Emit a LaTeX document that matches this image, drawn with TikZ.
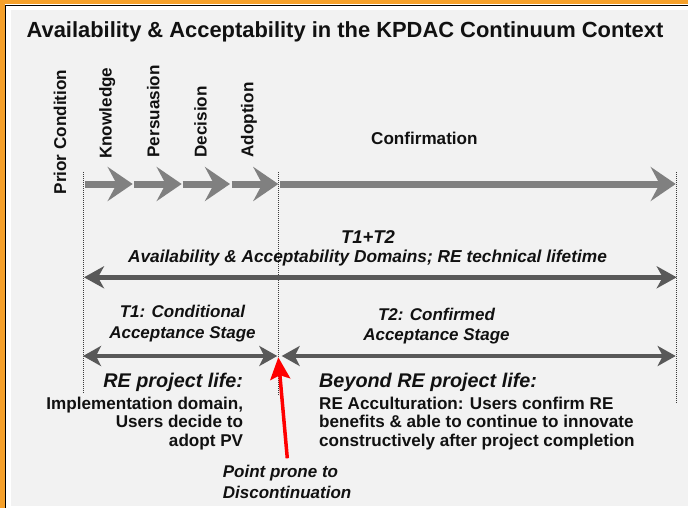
\documentclass[tikz,border=0pt]{standalone}
\usepackage{fontspec}
\setmainfont{Liberation Sans}
\usetikzlibrary{arrows.meta}
\definecolor{bggray}{HTML}{F2F2F2}
\definecolor{orangeband}{HTML}{F5A02A}
\definecolor{chev}{HTML}{808080}
\definecolor{darrow}{HTML}{595959}
\definecolor{dotc}{HTML}{3A3A3A}
\definecolor{txt}{HTML}{111111}
\begin{document}
\begin{tikzpicture}[x=1pt,y=-1pt,
  lbl/.style={font=\bfseries\fontsize{17.1}{20}\selectfont, text=txt, inner sep=0pt},
  ilbl/.style={font=\bfseries\itshape\fontsize{17}{20}\selectfont, text=txt, inner sep=0pt},
  hlbl/.style={font=\bfseries\itshape\fontsize{19.8}{22}\selectfont, text=txt, inner sep=0pt},
  ttl/.style={font=\bfseries\fontsize{21.9}{24}\selectfont, text=txt, inner sep=0pt},
  chevron/.style={draw=chev, line width=7pt, -{Stealth[length=25pt,width=34pt,inset=9pt]}},
  dblarrow/.style={draw=darrow, line width=4.5pt, {Stealth[length=18pt,width=20pt,inset=5pt]}-{Stealth[length=18pt,width=20pt,inset=5pt]}},
  dotline/.style={draw=dotc, line width=1pt, dash pattern=on 1pt off 1pt},
  redarrow/.style={draw=red, line width=3.5pt, -{Stealth[length=22pt,width=20pt,inset=4pt]}}
]
\useasboundingbox (0,0) rectangle (688,508);
% frame
\fill[white] (0,0) rectangle (688,508);
\fill[orangeband] (0,0) rectangle (688,4.5);
\fill[orangeband] (0,0) rectangle (4.5,508);
\draw[black, line width=1.5pt] (5.5,508) -- (5.5,5.5) -- (688,5.5);
\fill[bggray] (11,10) rectangle (688,506);

% title
\node[ttl, anchor=base] (title) at (345,37.7) {Availability \& Acceptability in the KPDAC Continuum Context};

% vertical stage labels
\node[lbl, rotate=90, anchor=base west] (prior) at (66,194.5) {Prior Condition};
\node[lbl, rotate=90, anchor=base west] (know) at (111.7,159) {Knowledge};
\node[lbl, rotate=90, anchor=base west] (pers) at (159.3,157.7) {Persuasion};
\node[lbl, rotate=90, anchor=base west] (deci) at (206.7,157.7) {Decision};
\node[lbl, rotate=90, anchor=base west] (adop) at (253.3,157.7) {Adoption};
\node[lbl, anchor=base west] (conf) at (371,145) {Confirmation};

% dotted guides
\coordinate (dLt) at (83.3,172);
\coordinate (dLb) at (83.3,393);
\coordinate (dMt) at (278.3,172);
\coordinate (dMb) at (278.3,395);
\coordinate (dRt) at (676.3,172);
\coordinate (dRb) at (676.3,403);
\draw[dotline] (dLt) -- (dLb);
\draw[dotline] (dMt) -- (dMb);
\draw[dotline] (dRt) -- (dRb);

% chevron arrows
\coordinate (s1) at (85,184);   \coordinate (e1) at (132.7,184);
\coordinate (s2) at (134,184);  \coordinate (e2) at (181.7,184);
\coordinate (s3) at (182.7,184);\coordinate (e3) at (230,184);
\coordinate (s4) at (231.7,184);\coordinate (e4) at (278.3,184);
\coordinate (s5) at (280,184);  \coordinate (e5) at (675.7,184);
\draw[chevron] (s1) -- (e1);
\draw[chevron] (s2) -- (e2);
\draw[chevron] (s3) -- (e3);
\draw[chevron] (s4) -- (e4);
\draw[chevron] (s5) -- (e5);

% T1+T2 domain
\node[font=\bfseries\itshape\fontsize{18.5}{20}\selectfont, text=txt, inner sep=0pt, anchor=base] (t12) at (368,243.3) {T1+T2};
\node[ilbl, font=\bfseries\itshape\fontsize{17.3}{20}\selectfont, anchor=base] (dom) at (367.5,262.7) {Availability \& Acceptability Domains; RE technical lifetime};
\coordinate (aL) at (84,277.3);
\coordinate (aR) at (676.7,277.3);
\draw[dblarrow, line width=5pt, {Stealth[length=20pt,width=22pt,inset=6pt]}-{Stealth[length=20pt,width=22pt,inset=6pt]}] (aL) -- (aR);

% T1 / T2 stages
\node[ilbl, anchor=base] (t1a) at (182.5,317.3) {T1: Conditional};
\node[ilbl, anchor=base] (t1b) at (182.5,338.3) {Acceptance Stage};
\node[ilbl, anchor=base] (t2a) at (436.5,320) {T2: Confirmed};
\node[ilbl, anchor=base] (t2b) at (436.5,340.7) {Acceptance Stage};
\coordinate (b1L) at (83,356);
\coordinate (b1R) at (277.3,356);
\coordinate (b2L) at (281.7,356);
\coordinate (b2R) at (675.7,356);
\draw[dblarrow] (b1L) -- (b1R);
\draw[dblarrow] (b2L) -- (b2R);

% RE project life
\node[hlbl, anchor=base east] (rel1) at (243.3,387.3) {RE project life:};
\node[lbl, anchor=base east] (rel2) at (243.3,409.3) {Implementation domain,};
\node[lbl, anchor=base east] (rel3) at (243.3,427.7) {Users decide to};
\node[lbl, anchor=base east] (rel4) at (243.3,446.7) {adopt PV};

% Beyond RE project life
\node[hlbl, anchor=base west] (bey1) at (319,387.3) {Beyond RE project life:};
\node[lbl, anchor=base west] (bey2) at (319,409.3) {RE Acculturation: Users confirm RE};
\node[lbl, anchor=base west] (bey3) at (319,427.7) {benefits \& able to continue to innovate};
\node[lbl, anchor=base west] (bey4) at (319,446.7) {constructively after project completion};

% discontinuation point
\coordinate (rtail) at (287.3,458.3);
\coordinate (rtip) at (278.3,357.3);
\draw[redarrow] (rtail) -- (rtip);
\node[ilbl, anchor=base west] (pp1) at (222.7,477.3) {Point prone to};
\node[ilbl, anchor=base west] (pp2) at (222.7,498.3) {Discontinuation};
\end{tikzpicture}
\end{document}
